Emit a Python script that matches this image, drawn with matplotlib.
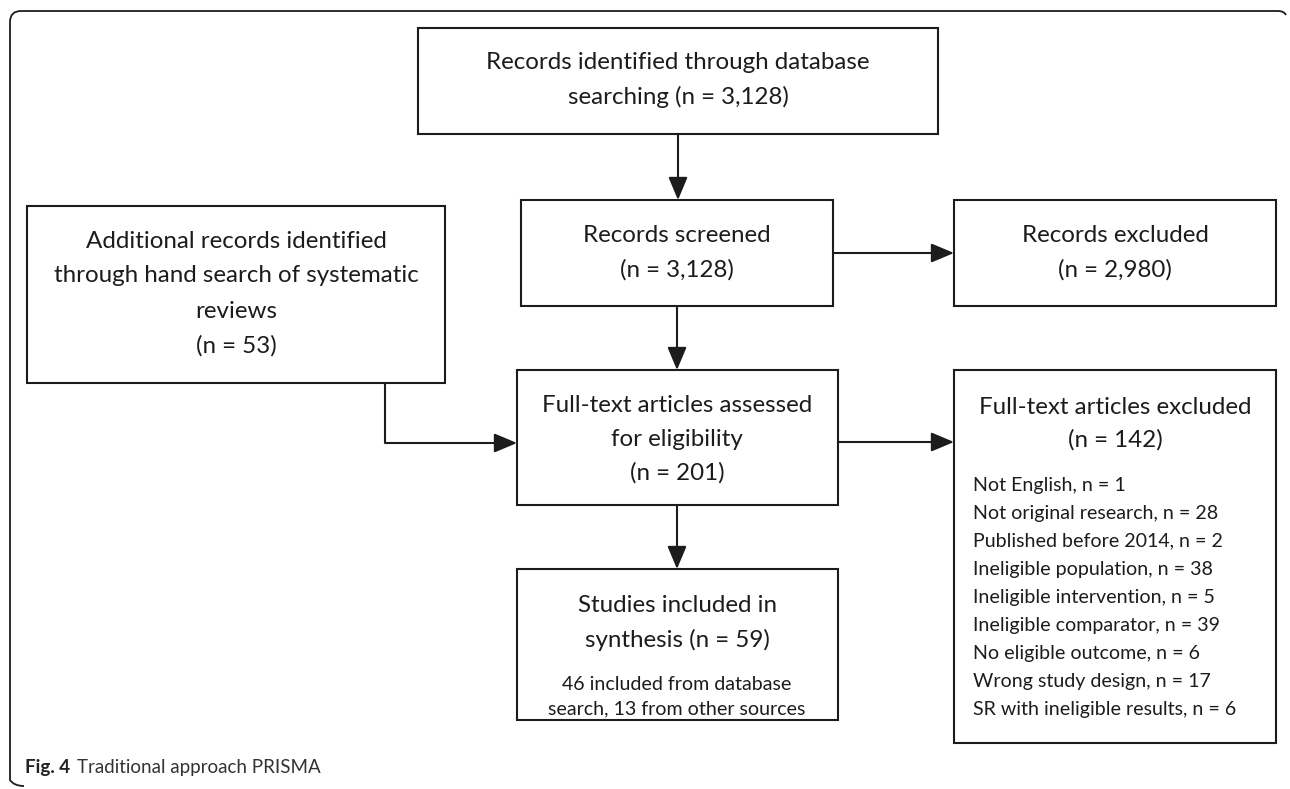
import matplotlib.pyplot as plt
from matplotlib.patches import Rectangle, FancyArrowPatch
from matplotlib.path import Path
from matplotlib.patches import PathPatch

plt.rcParams['font.family'] = ['Lato', 'DejaVu Sans']

# box texts
top_lines = ["Records identified through database", "searching (n = 3,128)"]
extra_lines = ["Additional records identified", "through hand search of systematic", "reviews", "(n = 53)"]
screened_lines = ["Records screened", "(n = 3,128)"]
rec_excl_lines = ["Records excluded", "(n = 2,980)"]
fulltext_lines = ["Full-text articles assessed", "for eligibility", "(n = 201)"]
ft_excl_lines = ["Full-text articles excluded", "(n = 142)"]
excl_reasons = ["Not English", "Not original research", "Published before 2014",
                "Ineligible population", "Ineligible intervention", "Ineligible comparator",
                "No eligible outcome", "Wrong study design", "SR with ineligible results"]
excl_counts = [1, 28, 2, 38, 5, 39, 6, 17, 6]
included_lines = ["Studies included in", "synthesis (n = 59)"]
included_note = ["46 included from database", "search, 13 from other sources"]
caption_bold = "Fig. 4"
caption_text = "Traditional approach PRISMA"

W, H = 1290, 789
fig = plt.figure(figsize=(W / 100, H / 100), dpi=100)
ax = fig.add_axes([0, 0, 1, 1])
ax.set_xlim(0, W)
ax.set_ylim(H, 0)
ax.axis("off")

ink = "#1c1c1c"
big = 17.4
small = 14.1
lw = 1.5

# outer frame: left edge + top edge with rounded corners
verts = [(24, 786), (14, 786), (10, 780), (10, 22), (10, 11), (21, 11),
         (1278, 11), (1284, 11), (1286, 15)]
codes = [Path.MOVETO, Path.CURVE3, Path.CURVE3, Path.LINETO, Path.CURVE3, Path.CURVE3,
         Path.LINETO, Path.CURVE3, Path.CURVE3]
ax.add_patch(PathPatch(Path(verts, codes), fill=False, lw=1.3, ec=ink))


def box(x0, y0, x1, y1):
    ax.add_patch(Rectangle((x0, y0), x1 - x0, y1 - y0, fill=False, lw=lw, ec=ink))


def lines(cx, y0, step, items, size=big, ha="center"):
    for i, s in enumerate(items):
        ax.text(cx, y0 + i * step, s, ha=ha, va="center", fontsize=size, color=ink)


def arrow(pts):
    for a, b in zip(pts[:-2], pts[1:-1]):
        ax.plot([a[0], b[0]], [a[1], b[1]], color=ink, lw=lw, solid_capstyle="butt")
    ax.add_patch(FancyArrowPatch(pts[-2], pts[-1], arrowstyle="-|>,head_length=1.0,head_width=0.42",
                                 mutation_scale=14, lw=lw, color=ink, shrinkA=0, shrinkB=0))


box(418, 28, 938, 134)
lines(678, 62, 35, top_lines)

box(27, 206, 445, 383)
lines(236, 241, 35, extra_lines)

box(521, 200, 833, 306)
lines(677, 235, 35, screened_lines)

box(954, 200, 1276, 306)
lines(1115, 235, 35, rec_excl_lines)

box(517, 370, 838, 505)
lines(677, 405, 34, fulltext_lines)

box(954, 370, 1276, 743)
lines(1115, 407, 33, ft_excl_lines)
lines(973, 485, 28, [f"{r}, n = {c}" for r, c in zip(excl_reasons, excl_counts)],
      size=small, ha="left")

box(517, 569, 838, 720)
lines(677, 605, 35, included_lines)
lines(677, 685, 24, included_note, size=small)

arrow([(678, 134), (678, 200)])
arrow([(677, 306), (677, 370)])
arrow([(677, 505), (677, 569)])
arrow([(833, 253), (954, 253)])
arrow([(838, 442), (954, 442)])
arrow([(385, 383), (385, 443), (517, 443)])

ax.text(25, 768, caption_bold, ha="left", va="center", fontsize=13.5, fontweight="bold", color="#222222")
ax.text(77, 768, caption_text, ha="left", va="center", fontsize=13.5, color="#333333")

fig.savefig("out.png", dpi=100)
